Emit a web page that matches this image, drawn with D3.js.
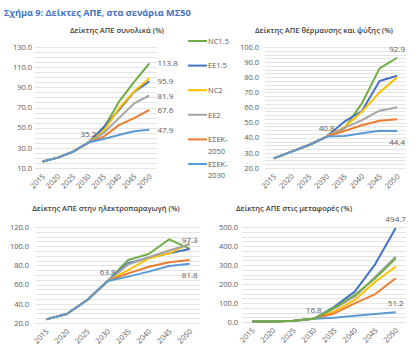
<!DOCTYPE html>
<html>
<head>
<meta charset="utf-8">
<script src="https://cdn.jsdelivr.net/npm/d3@7"></script>
<style>
  body { margin: 0; background: #fff; }
  svg { display: block; font-family: "Open Sans", "DejaVu Sans", sans-serif; }
  .grid line { stroke: #e4e4e4; stroke-width: 1; }
  .tick-label { fill: #595959; font-size: 7.5px; }
  .chart-title { fill: #404040; font-size: 7.5px; font-weight: 600; }
  .data-label { fill: #595959; font-size: 8px; }
</style>
</head>
<body>
<svg id="fig" width="420" height="350"></svg>
<script>
// categories and series
const years = ["2015", "2020", "2025", "2030", "2035", "2040", "2045", "2050"];
const scenarios = ["NC1.5", "EE1.5", "NC2", "EE2", "ΕΣΕΚ-2050", "ΕΣΕΚ-2030"];
const scenarioColors = ["#70AD47", "#4472C4", "#FFC000", "#A5A5A5", "#ED7D31", "#5B9BD5"];

// Δείκτης ΑΠΕ συνολικά (%), one row per scenario
const totalRES = [
  [16.5, 20.3, 26.2, 35.2, 49.5, 75.5, 95.5, 113.8],
  [16.5, 20.3, 26.2, 35.2, 50.5, 67.5, 85.5, 95.9],
  [16.5, 20.3, 26.2, 35.2, 46.5, 69.0, 86.0, 99.0],
  [16.5, 20.3, 26.2, 35.2, 44.5, 59.5, 74.0, 81.9],
  [16.5, 20.3, 26.2, 35.2, 41.0, 52.5, 59.5, 67.6],
  [16.5, 20.3, 26.2, 35.2, 38.8, 42.7, 46.5, 47.9]
];
// Δείκτης ΑΠΕ θέρμανσης και ψύξης (%)
const heatingRES = [
  [26.4, 30.8, 35.2, 40.8, 46.2, 62.8, 85.9, 92.9],
  [26.4, 30.8, 35.2, 40.8, 50.6, 57.7, 77.5, 81.0],
  [26.4, 30.8, 35.2, 40.8, 47.0, 57.2, 70.0, 80.0],
  [26.4, 30.8, 35.2, 40.8, 46.5, 51.7, 57.9, 60.1],
  [26.4, 30.8, 35.2, 40.8, 44.5, 48.3, 51.3, 52.2],
  [26.4, 30.8, 35.2, 40.8, 41.2, 42.9, 44.6, 44.4]
];
// Δείκτης ΑΠΕ στην ηλεκτροπαραγωγή (%)
const electricityRES = [
  [23.8, 29.4, 44.0, 63.8, 85.6, 91.9, 107.2, 97.3],
  [23.8, 29.4, 44.0, 63.8, 82.2, 88.0, 92.6, 97.0],
  [23.8, 29.4, 44.0, 63.8, 75.2, 87.4, 92.6, 103.0],
  [23.8, 29.4, 44.0, 63.8, 81.0, 88.5, 95.5, 102.0],
  [23.8, 29.4, 44.0, 63.8, 71.7, 78.6, 83.2, 85.6],
  [23.8, 29.4, 44.0, 63.8, 68.3, 73.5, 79.4, 81.8]
];
// Δείκτης ΑΠΕ στις μεταφορές (%)
const transportRES = [
  [2.5, 3.0, 6.0, 16.8, 75, 142, 230, 335],
  [2.5, 3.0, 6.0, 16.8, 80, 160, 305, 494.7],
  [2.5, 3.0, 6.0, 16.8, 55, 116, 212, 291],
  [2.5, 3.0, 6.0, 16.8, 70, 133, 238, 344],
  [2.5, 3.0, 6.0, 16.8, 45, 98, 147, 230],
  [2.5, 3.0, 6.0, 16.8, 23, 33, 42, 51.2]
];

const svg = d3.select("#fig");

svg.append("text")
  .attr("x", 4).attr("y", 16)
  .attr("fill", "#4472C4")
  .style("font-size", "9.2px").style("font-weight", "bold")
  .style("font-family", "'Open Sans', sans-serif")
  .text("Σχήμα 9: Δείκτες ΑΠΕ, στα σενάρια ΜΣ50");

/**
 * draws one small line chart
 */
function drawChart(c) {
  let x = d3.scalePoint().domain(years).range([c.left, c.right]).padding(0.5);
  let y = d3.scaleLinear().domain(c.domain).range([c.bottom, c.top]);

  let g = svg.append("g");

  // gridlines, four per labelled step
  let gridVals = d3.range(c.domain[0], c.domain[1] + 0.001, c.step / 4);
  g.append("g").attr("class", "grid")
    .selectAll("line").data(gridVals).enter().append("line")
    .attr("x1", c.left).attr("x2", c.right)
    .attr("y1", d => Math.round(y(d)) + 0.5).attr("y2", d => Math.round(y(d)) + 0.5);

  // y labels
  let yTicks = d3.range(c.domain[0], c.domain[1] + 0.001, c.step);
  g.selectAll(".ylab").data(yTicks).enter().append("text")
    .attr("class", "tick-label")
    .attr("x", c.labelX).attr("y", d => y(d) + 2.7)
    .attr("text-anchor", "end")
    .text(d => d.toFixed(1));

  // x labels, rotated
  g.selectAll(".xlab").data(years).enter().append("text")
    .attr("class", "tick-label")
    .attr("text-anchor", "end")
    .attr("transform", d => "translate(" + (x(d) + 3) + "," + (c.bottom + 9) + ") rotate(-45)")
    .text(d => d);

  // title
  g.append("text").attr("class", "chart-title")
    .attr("x", c.titleX).attr("y", c.titleY)
    .attr("text-anchor", "middle")
    .text(c.title);

  let line = d3.line().x((d, i) => x(years[i])).y(d => y(d));

  c.order.forEach(function (s) {
    g.append("path")
      .datum(c.data[s])
      .attr("fill", "none")
      .attr("stroke", scenarioColors[s])
      .attr("stroke-width", 2)
      .attr("stroke-linejoin", "round")
      .attr("d", line);
  });

  // data labels
  c.labels.forEach(function (l) {
    let v = c.data[l.s][l.i];
    let px = x(years[l.i]), py = y(v);
    let t = g.append("text").attr("class", "data-label").text(v.toFixed(1));
    if (l.pos === "right") {
      t.attr("x", px + 8).attr("y", py + 3);
    } else if (l.pos === "below") {
      t.attr("x", px).attr("y", py + 14).attr("text-anchor", "middle");
    } else {
      t.attr("x", px).attr("y", py - 6).attr("text-anchor", "middle");
    }
  });
}

drawChart({
  title: "Δείκτης ΑΠΕ συνολικά (%)", titleX: 117, titleY: 33,
  data: totalRES, domain: [10, 130], step: 20,
  left: 35, right: 157, top: 47, bottom: 168, labelX: 32,
  order: [0, 1, 2, 3, 4, 5],
  labels: [{s: 0, i: 7, pos: "right"}, {s: 1, i: 7, pos: "right"}, {s: 3, i: 7, pos: "right"},
           {s: 4, i: 7, pos: "right"}, {s: 5, i: 7, pos: "right"}, {s: 5, i: 3, pos: "above"}]
});

drawChart({
  title: "Δείκτης ΑΠΕ θέρμανσης και ψύξης (%)", titleX: 324, titleY: 33,
  data: heatingRES, domain: [20, 100], step: 10,
  left: 265, right: 406, top: 47, bottom: 168, labelX: 259,
  order: [0, 1, 2, 3, 4, 5],
  labels: [{s: 0, i: 7, pos: "above"}, {s: 5, i: 7, pos: "below"}, {s: 5, i: 3, pos: "above"}]
});

drawChart({
  title: "Δείκτης ΑΠΕ στην ηλεκτροπαραγωγή (%)", titleX: 106, titleY: 211,
  data: electricityRES, domain: [20, 120], step: 20,
  left: 36, right: 200, top: 227, bottom: 323, labelX: 29,
  order: [0, 1, 2, 3, 4, 5],
  labels: [{s: 0, i: 7, pos: "above"}, {s: 5, i: 7, pos: "below"}, {s: 5, i: 3, pos: "above"}]
});

drawChart({
  title: "Δείκτης ΑΠΕ στις μεταφορές (%)", titleX: 294, titleY: 211,
  data: transportRES, domain: [0, 500], step: 100,
  left: 242, right: 406, top: 227, bottom: 322, labelX: 238,
  order: [1, 2, 3, 4, 5, 0],
  labels: [{s: 1, i: 7, pos: "above"}, {s: 5, i: 7, pos: "above"}, {s: 5, i: 3, pos: "above"}]
});

// legend between the two top charts
const legend = svg.append("g");
const legendY = d3.scalePoint().domain(scenarios).range([41, 164]);
scenarios.forEach(function (name, i) {
  let ly = legendY(name);
  legend.append("line")
    .attr("x1", 188).attr("x2", 207).attr("y1", ly).attr("y2", ly)
    .attr("stroke", scenarioColors[i]).attr("stroke-width", 2);
  let parts = name.indexOf("-") > 0 ? [name.split("-")[0] + "-", name.split("-")[1]] : [name];
  parts.forEach(function (p, j) {
    legend.append("text").attr("class", "tick-label")
      .attr("x", 208).attr("y", ly + 2.7 + j * 11.5)
      .text(p);
  });
});
</script>
</body>
</html>
